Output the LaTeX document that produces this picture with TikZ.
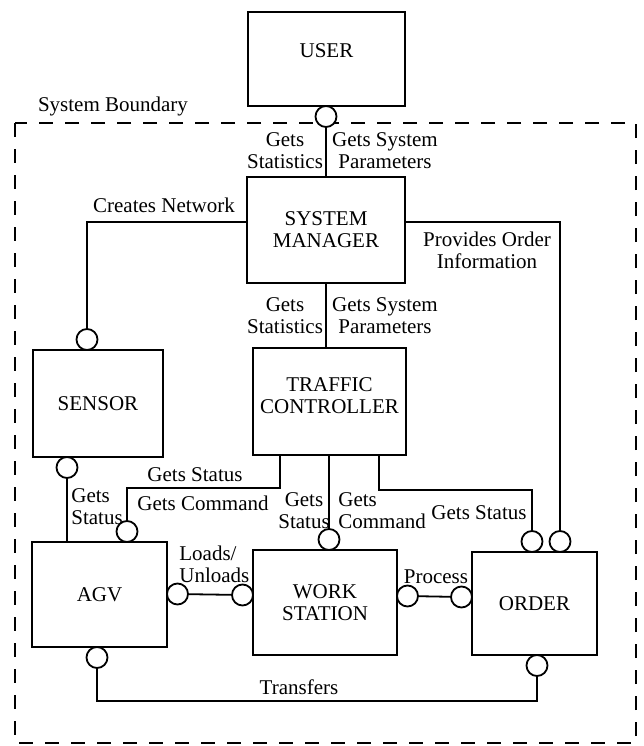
\documentclass[tikz,border=0pt]{standalone}
\usepackage{fontspec}
\setmainfont{Liberation Serif}
\usepackage{tikz}
\usetikzlibrary{positioning,calc}

\begin{document}
\begin{tikzpicture}[x=0.5pt,y=-0.5pt,
    every node/.style={font=\fontsize{10.5}{11}\selectfont},
    module/.style={draw,line width=0.9pt,align=center,inner sep=0pt},
    port/.style={draw,circle,line width=0.9pt,minimum size=10.5pt,inner sep=0pt,fill=white},
    lbl/.style={align=center,inner sep=0pt},
    link/.style={line width=0.9pt},
    boundary/.style={line width=0.8pt,dash pattern=on 7pt off 6pt}]
\useasboundingbox (0,0) rectangle (644,746);

\draw[boundary] (15,123) rectangle (636,743);
\node[lbl] (sysb) at (113,106) {System Boundary};

\node[module,minimum width=78.5pt,minimum height=47pt,text depth=8pt] (user) at (326.5,59) {USER};
\node[module,minimum width=79pt,minimum height=53pt] (sm) at (326,230) {SYSTEM\\MANAGER};
\node[module,minimum width=76.5pt,minimum height=53.5pt,text depth=6pt] (tc) at (329.5,401.5) {TRAFFIC\\CONTROLLER};
\node[module,minimum width=65pt,minimum height=53.5pt] (sensor) at (98,403.5) {SENSOR};
\node[module,minimum width=67.5pt,minimum height=52.5pt] (agv) at (99.5,594.5) {AGV};
\node[module,minimum width=72pt,minimum height=52.5pt] (ws) at (325,602.5) {WORK\\STATION};
\node[module,minimum width=62.5pt,minimum height=51.5pt] (order) at (534.5,603.5) {ORDER};

\node[port] (pU) at (326,116.5) {};
\node[port] (pS1) at (87,339.5) {};
\node[port] (pS2) at (67,467.5) {};
\node[port] (pA1) at (127,531.5) {};
\node[port] (pA2) at (177.5,594) {};
\node[port] (pA3) at (97,657.5) {};
\node[port] (pW1) at (329,539.5) {};
\node[port] (pW2) at (242.5,595) {};
\node[port] (pW3) at (407.5,596) {};
\node[port] (pO1) at (532,541.5) {};
\node[port] (pO2) at (560,541.5) {};
\node[port] (pO3) at (461.5,597) {};
\node[port] (pO4) at (537,665.5) {};

\draw[link] (pU) -- (pU |- sm.north);
\draw[link] ([yshift=4pt]sm.west) -| (pS1);
\draw[link] ([yshift=4pt]sm.east) -| (pO2);
\draw[link] (sm.south) -- (sm.south |- tc.north);
\draw[link] (pS2) -- (pS2 |- agv.north);
\draw[link] (tc.south -| 280,0) -- (280,488) -| (pA1);
\draw[link] (pW1 |- tc.south) -- (pW1);
\draw[link] (tc.south -| 379,0) -- (379,490) -| (pO1);
\draw[link] (pA2) -- (pW2);
\draw[link] (pW3) -- (pO3);
\draw[link] (pA3) -- (pA3 |- 0,701) -| (pO4);

\node[lbl] (l1) at (285,151) {Gets\\Statistics};
\node[lbl] (l2) at (385,151) {Gets System\\Parameters};
\node[lbl] (l3) at (164,205) {Creates Network};
\node[lbl] (l4) at (487,250) {Provides Order\\Information};
\node[lbl] (l5) at (285,316) {Gets\\Statistics};
\node[lbl] (l6) at (385,316) {Gets System\\Parameters};
\node[lbl,align=left,anchor=west] (l7) at (71,507) {Gets\\Status};
\node[lbl] (l8) at (195,475) {Gets Status};
\node[lbl] (l9) at (203,503) {Gets Command};
\node[lbl] (l10) at (304,511) {Gets\\Status};
\node[lbl,align=left,anchor=west] (l11) at (338,511) {Gets\\Command};
\node[lbl] (l12) at (479,513) {Gets Status};
\node[lbl,align=left,anchor=west] (l13) at (179,564) {Loads/\\Unloads};
\node[lbl] (l14) at (436,577) {Process};
\node[lbl] (l15) at (299,687) {Transfers};
\end{tikzpicture}
\end{document}
